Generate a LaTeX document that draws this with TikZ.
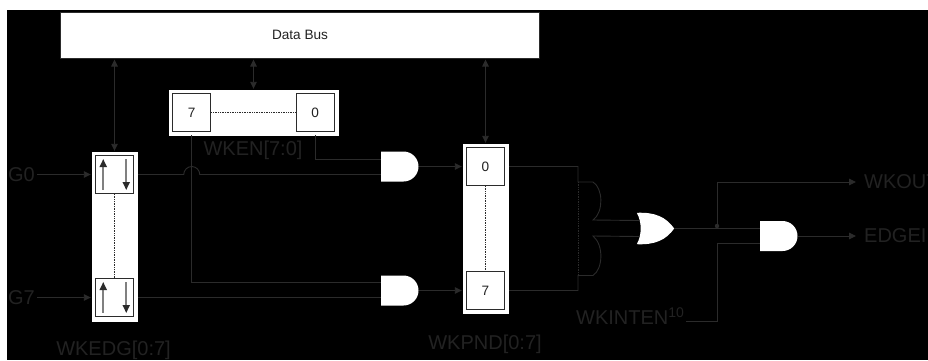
\documentclass[tikz,border=0pt]{standalone}
\usepackage{fontspec}
\setmainfont{Liberation Sans}
\usetikzlibrary{arrows.meta, calc, shapes.gates.logic.US}
\definecolor{ink}{HTML}{2B2B2B}
\definecolor{faint}{HTML}{222222}
\tikzset{
  wire/.style={draw=ink, line width=0.9pt},
  box/.style={draw=white, fill=white, inner sep=0pt},
  cell/.style={draw=ink, line width=1.1pt, fill=white, inner sep=0pt, minimum size=38pt, text=faint, font=\fontsize{13.6}{16}\selectfont},
  tag/.style={inner sep=0pt, text=faint, font=\fontsize{20}{24}\selectfont},
  andgate/.style={and gate US, logic gate inputs=nn, logic gate input sep=10pt, fill=white, draw=none, inner sep=0pt},
  orslot/.style={inner sep=0pt, minimum width=37pt, minimum height=31pt},
  edgearrow/.style={draw=gray, line width=1.8pt},
  dots/.style={draw=ink, line width=0.7pt, densely dotted}
}
\begin{document}
\begin{tikzpicture}[x=1pt, y=-1pt, >={Stealth[length=7pt, width=6.5pt, inset=0pt]}]
    \useasboundingbox (0, 0) rectangle (928, 360);
    \fill [white] (0, 0) rectangle (928, 360);
    \fill [black] (7, 10) rectangle (928, 360);

    % Data bus
    \node (bus) at (300, 35.25) [draw=ink, line width=1pt, fill=white, minimum width=479pt, minimum height=45.5pt, inner sep=0pt, text=faint, font=\fontsize{13.6}{16}\selectfont] {Data Bus};

    % WKEN register
    \node (wken) at (253.5, 112.5) [box, minimum width=169pt, minimum height=45pt] {};
    \node (wkenA) at (191.75, 112.5) [cell] {7};
    \node (wkenB) at (315.25, 112.5) [cell] {0};
    \draw [dots] (wkenA) -- (wkenB);
    \node (wkenTag) at (253, 150) [tag] {WKEN[7:0]};

    % WKEDG register
    \node (wkedg) at (114.5, 236.5) [box, minimum width=45pt, minimum height=169pt] {};
    \node (edgA) at (114.75, 174.5) [cell] {};
    \node (edgB) at (114.75, 297.5) [cell] {};
    \draw [dots] (edgA) -- (edgB);
    \node (edgTag) at (113.5, 350) [tag] {WKEDG[0:7]};
    \foreach \cellname in {edgA, edgB} {
      \draw [edgearrow, arrows={Stealth[length=8pt, width=7pt, inset=0pt, ink]-}] ($(\cellname)+(-11.5, -15.5)$) -- ($(\cellname)+(-11.5, 15.5)$);
      \draw [edgearrow, arrows={-Stealth[length=8pt, width=7pt, inset=0pt, ink]}] ($(\cellname)+(11.5, -15.5)$) -- ($(\cellname)+(11.5, 15.5)$);
    }

    % WKPND register
    \node (wkpnd) at (485.5, 228.5) [box, minimum width=45pt, minimum height=169pt] {};
    \node (pndA) at (485.5, 166.5) [cell] {0};
    \node (pndB) at (485.5, 290.5) [cell] {7};
    \draw [dots] (pndA) -- (pndB);
    \node (pndTag) at (485, 344) [tag] {WKPND[0:7]};

    % Gates
    \node (andA) at (398.5, 166.5) [andgate] {};
    \node (andB) at (398.5, 290.5) [andgate] {};
    \node (orA) at (655.5, 228.5) [orslot] {};
    \node (andC) at (777.5, 236) [andgate] {};

    % Gate inputs
    \coordinate (andAup) at ($(andA.west)+(0, -7.5)$);
    \coordinate (andAlow) at ($(andA.west)+(0, 8)$);
    \coordinate (andBup) at ($(andB.west)+(0, -8.5)$);
    \coordinate (andBlow) at ($(andB.west)+(0, 7)$);
    \coordinate (orAup) at ($(orA.west)+(2, -8)$);
    \coordinate (orAlow) at ($(orA.west)+(2, 8)$);
    \coordinate (andCup) at ($(andC.west)+(0, -7.5)$);
    \coordinate (andClow) at ($(andC.west)+(0, 7.5)$);

    % Bus connections
    \draw [wire, <->, shorten <=1pt, shorten >=1pt] (wkedg.north) -- (wkedg.north |- bus.south);
    \draw [wire, <->, shorten <=1pt, shorten >=1pt] (wken.north) -- (wken.north |- bus.south);
    \draw [wire, <->, shorten <=1pt, shorten >=1pt] (wkpnd.north) -- (wkpnd.north |- bus.south);

    % Inputs
    \node (G0) at (21.5, 174.5) [tag] {G0};
    \node (G7) at (21.5, 297.5) [tag] {G7};
    \draw [wire, ->, shorten <=2pt, shorten >=1pt] (G0.east) -- (G0.east -| wkedg.west);
    \draw [wire, ->, shorten <=2pt, shorten >=1pt] (G7.east) -- (G7.east -| wkedg.west);

    % To the AND gates
    \coordinate (hop) at (wkenA |- edgA);
    \draw [wire, shorten <=1pt] (edgA -| wkedg.east) -- ([xshift=-8pt]hop) arc [start angle=180, end angle=0, radius=8pt] -- (andAlow);
    \draw [wire, shorten <=1pt] (edgB -| wkedg.east) -- (andBlow);
    \draw [wire] (wkenB |- wken.south) |- (andAup);
    \draw [wire] (wkenA |- wken.south) |- (andBup);
    \draw [wire, ->, shorten >=1pt] (andA.output) -- (pndA -| wkpnd.west);
    \draw [wire, ->, shorten >=1pt] (andB.output) -- (pndB -| wkpnd.west);

    % To the OR gate
    \coordinate (mergeA) at (578, 182);
    \coordinate (mergeB) at (578, 275.5);
    \draw [wire, shorten <=1pt] (pndA -| wkpnd.east) -| (mergeA) -- ++(15, 0) .. controls (603, 188) and (604, 212) .. (593, 220) -- (orAup);
    \draw [wire, shorten <=1pt] (pndB -| wkpnd.east) -| (mergeB) -- ++(15, 0) .. controls (603, 269) and (604, 245) .. (593, 236) -- (orAlow);
    \draw [dots] (mergeA) -- (mergeB);
    \fill [white] (orA.north west) .. controls (642, 222) and (642, 235) .. (orA.south west)
      .. controls (655, 245) and (666, 240) .. (orA.east)
      .. controls (666, 217) and (655, 212) .. (orA.north west);

    % Outputs
    \coordinate (tap) at (717, 226);
    \node (wkout) at (864, 182) [tag, anchor=west] {WKOUT};
    \node (edgei) at (864, 236) [tag, anchor=west] {EDGEI};
    \node (wkinten) at (576, 316) [tag, anchor=west] {WKINTEN\textsuperscript{10}};
    \coordinate (intenEnd) at (686, 321);
    \draw [wire] (orA.east) -- (andCup);
    \fill [ink] (tap) circle [radius=2.2pt];
    \draw [wire, ->, shorten >=8pt] (tap) |- (wkout.west);
    \draw [wire, ->, shorten >=8pt] (andC.output) -- (edgei.west);
    \draw [wire] (intenEnd) -- (intenEnd -| tap) |- (andClow);
  \end{tikzpicture}
\end{document}
